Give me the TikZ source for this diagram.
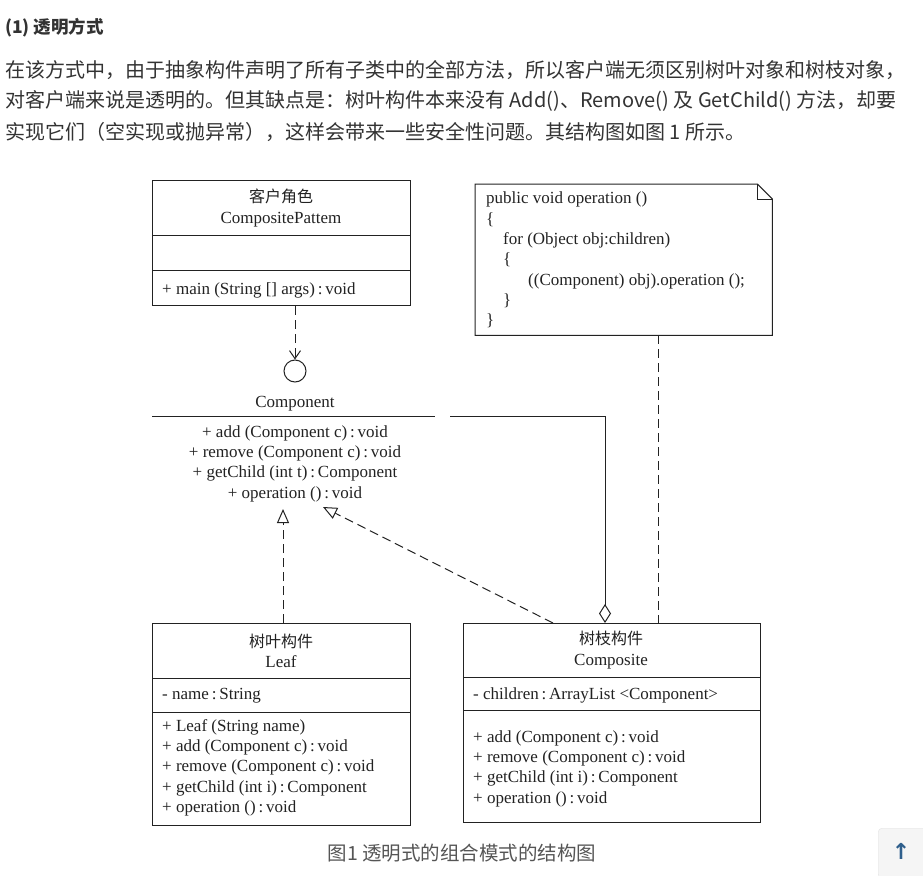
\documentclass[tikz,border=0pt]{standalone}
\usepackage{fontspec}
\setmainfont{Liberation Serif}
\newfontfamily\cjk{Noto Sans CJK SC}
\newfontfamily\symfont{DejaVu Sans}
\usetikzlibrary{arrows.meta,positioning}
\definecolor{webtext}{HTML}{333333}
\definecolor{captiongray}{HTML}{555555}
\definecolor{btnfill}{HTML}{F5F5F5}
\definecolor{btnborder}{HTML}{E3E3E3}
\definecolor{btnarrow}{HTML}{2F5F8C}
\definecolor{umlink}{HTML}{222222}

\tikzset{
    umlline/.style={draw=umlink, line width=1pt},
    classbox/.style={umlline, inner sep=0pt, anchor=north west},
    umltext/.style={inner sep=0pt, text=umlink, font=\fontsize{17}{20.4}\selectfont},
    umltitle/.style={umltext, align=center},
    member/.style={umltext, anchor=west, align=left},
    dashline/.style={umlline, dash pattern=on 9pt off 5pt},
    realize/.style={dashline, -{Triangle[open, length=14pt, width=12pt]}},
    webline/.style={inner sep=0pt, anchor=west, text=webtext, font=\cjk\fontsize{20}{24}\selectfont}
}

\begin{document}
\begin{tikzpicture}[x=1pt, y=-1pt]
    \useasboundingbox (0,0) rectangle (923,875);
    \fill[white] (0,0) rectangle (923,875);

    % page text
    \node[webline, font=\cjk\bfseries\fontsize{17.5}{22}\selectfont] (heading) at (5,28) {(1) 透明方式};
    \node[webline] (para1) at (5,70) {在该方式中，由于抽象构件声明了所有子类中的全部方法，所以客户端无须区别树叶对象和树枝对象，};
    \node[webline] (para2) at (5,101) {对客户端来说是透明的。但其缺点是：树叶构件本来没有 Add()、Remove() 及 GetChild() 方法，却要};
    \node[webline] (para3) at (5,132) {实现它们（空实现或抛异常），这样会带来一些安全性问题。其结构图如图 1 所示。};

    % client
    \node[classbox, minimum width=258pt, minimum height=125pt] (client) at (152,180) {};
    \draw[umlline] (152,235) -- (410,235);
    \draw[umlline] (152,270) -- (410,270);
    \node[umltitle] (clientname) at (281,208) {{\cjk\fontsize{16}{20.4}\selectfont 客户角色}\\CompositePattem};
    \node[member] (clientop) at (162,290) {+ main (String [] args)\,:\,void};

    % interface Component
    \node[draw=umlink, line width=1pt, circle, minimum size=22pt, inner sep=0pt] (iface) at (295,371) {};
    \node[umltext] (ifacename) at (295,404) {Component};
    \coordinate (ifaceleft) at (152,416);
    \coordinate (ifaceright) at (435,416);
    \draw[umlline] (ifaceleft) -- (ifaceright);
    \node[umltitle, anchor=north] (ifaceops) at (295,425) {+ add (Component c)\,:\,void\\+ remove (Component c)\,:\,void\\+ getChild (int t)\,:\,Component\\+ operation ()\,:\,void};

    % leaf
    \node[classbox, minimum width=258pt, minimum height=202pt] (leaf) at (152,623) {};
    \draw[umlline] (152,678) -- (410,678);
    \draw[umlline] (152,712) -- (410,712);
    \node[umltitle] (leafname) at (281,651) {{\cjk\fontsize{16}{20.4}\selectfont 树叶构件}\\Leaf};
    \node[member] (leafattr) at (162,696) {- name\,:\,String};
    \node[member, anchor=north west] (leafops) at (162,719) {+ Leaf (String name)\\+ add (Component c)\,:\,void\\+ remove (Component c)\,:\,void\\+ getChild (int i)\,:\,Component\\+ operation ()\,:\,void};

    % composite
    \node[classbox, minimum width=297pt, minimum height=199pt] (composite) at (463,623) {};
    \draw[umlline] (463,677) -- (760,677);
    \draw[umlline] (463,710) -- (760,710);
    \node[umltitle] (compname) at (611,650) {{\cjk\fontsize{16}{20.4}\selectfont 树枝构件}\\Composite};
    \node[member] (compattr) at (473,695) {- children\,:\,ArrayList <Component>};
    \node[member, anchor=north west] (compops) at (473,730) {+ add (Component c)\,:\,void\\+ remove (Component c)\,:\,void\\+ getChild (int i)\,:\,Component\\+ operation ()\,:\,void};

    % note
    \node[inner sep=0pt, minimum width=297pt, minimum height=151pt, anchor=north west] (note) at (475,184) {};
    \draw[umlline] (note.north west) -- ([xshift=-15pt]note.north east) -- ([yshift=-15pt]note.north east)
        -- (note.south east) -- (note.south west) -- cycle;
    \draw[umlline] ([xshift=-15pt]note.north east) -- ([xshift=-15pt, yshift=-15pt]note.north east) -- ([yshift=-15pt]note.north east);
    \node[member, anchor=north west, font=\fontsize{17}{20.3}\selectfont] (notecode) at (486,192)
        {public void operation ()\\\{\\\hspace*{17pt}for (Object obj:children)\\\hspace*{17pt}\{\\\hspace*{42pt}((Component) obj).operation ();\\\hspace*{17pt}\}\\\}};

    % connectors
    \draw[dashline, -{Straight Barb[length=8pt, width=11pt]}] (iface.north |- client.south) -- (iface.north);
    \coordinate (leaftip) at (283,509);
    \draw[realize] (leaf.north -| leaftip) -- (leaftip);
    \coordinate (comptail) at (553,623);
    \coordinate (comptip) at (323,507);
    \draw[realize] (comptail) -- (comptip);
    \coordinate (aggbase) at (605,623);
    \coordinate (aggcorner) at (605,416);
    \coordinate (aggend) at (450,416);
    \draw[umlline, {Diamond[open, length=19pt, width=12pt]}-] (aggbase) -- (aggcorner) -- (aggend);
    \draw[dashline] (note.south -| 658,0) -- (composite.north -| 658,0);

    % caption
    \node[inner sep=0pt, text=captiongray, font=\cjk\fontsize{19.5}{22}\selectfont] (caption) at (462,853) {图1 透明式的组合模式的结构图};

    % back-to-top button
    \node[draw=btnborder, fill=btnfill, rounded corners=4pt, minimum width=52pt, minimum height=50pt, anchor=north west] (totop) at (878,828) {};
    \node[text=btnarrow, font=\symfont\bfseries\fontsize{22}{22}\selectfont] (totoparrow) at (901,851) {↑};
\end{tikzpicture}
\end{document}
